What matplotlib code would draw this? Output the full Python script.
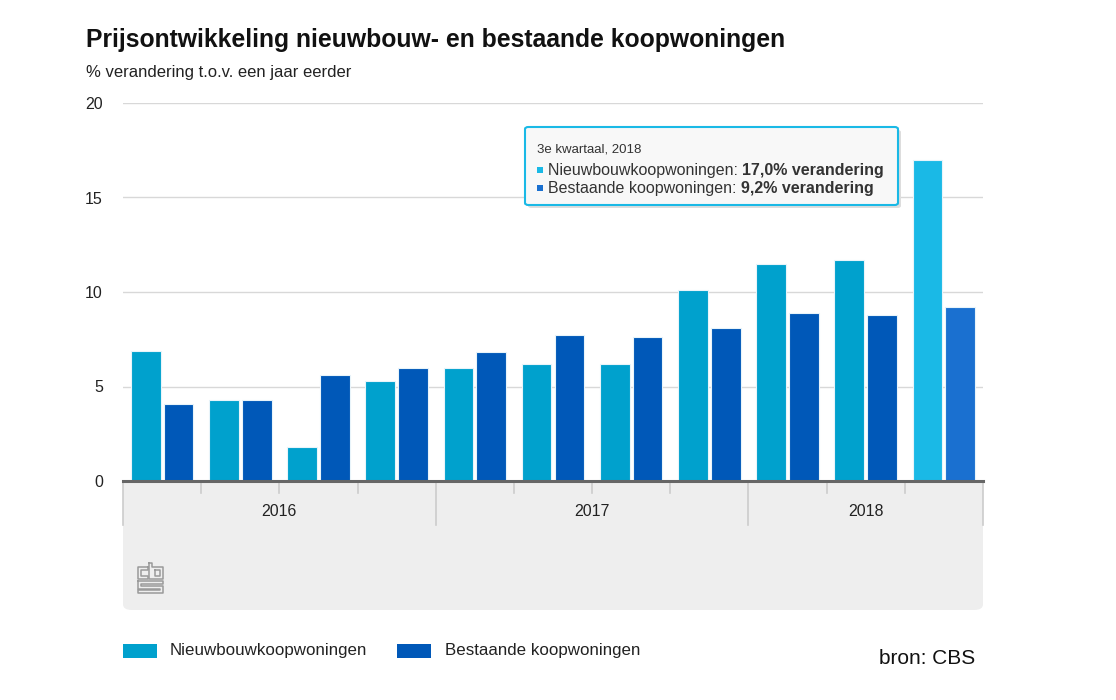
import matplotlib
matplotlib.use('Agg')
import matplotlib.pyplot as plt
from matplotlib.patches import FancyBboxPatch, Rectangle
from matplotlib.lines import Line2D
import matplotlib.transforms as mtransforms
import numpy as np

# data
kwartalen = ['2016 Q1', '2016 Q2', '2016 Q3', '2016 Q4',
             '2017 Q1', '2017 Q2', '2017 Q3', '2017 Q4',
             '2018 Q1', '2018 Q2', '2018 Q3']
jaren = ['2016', '2017', '2018']
kwartalen_per_jaar = [4, 4, 3]
nieuwbouw = [6.9, 4.3, 1.8, 5.3, 6.0, 6.2, 6.2, 10.1, 11.5, 11.7, 17.0]
bestaand = [4.1, 4.3, 5.6, 6.0, 6.8, 7.7, 7.6, 8.1, 8.9, 8.8, 9.2]
yticks = [0, 5, 10, 15, 20]

# colours
c_nieuw = '#00a1cd'
c_best = '#0058b8'
c_nieuw_hl = '#1ab9e6'
c_best_hl = '#1a70d0'

plt.rcParams['font.family'] = ['Liberation Sans', 'DejaVu Sans']

W, H = 1116, 700
fig = plt.figure(figsize=(W/100, H/100), dpi=100)
fx = lambda px: px / W
fy = lambda py: 1 - py / H

# grey band below the axis (behind axes)
band = FancyBboxPatch((fx(123), fy(610)), fx(983) - fx(123), fy(470) - fy(610),
                      boxstyle='round,pad=0,rounding_size=0.008',
                      transform=fig.transFigure, facecolor='#eeeeee',
                      edgecolor='none', zorder=0)
fig.patches.append(band)

ax = fig.add_axes([fx(123), fy(481), fx(983) - fx(123), fy(103) - fy(481)])
ax.set_facecolor('white')
ax.set_zorder(1)

x = np.arange(len(kwartalen))
bw = 0.38
g = 0.02
cn = [c_nieuw] * (len(x) - 1) + [c_nieuw_hl]
cb = [c_best] * (len(x) - 1) + [c_best_hl]
ax.bar(x - bw/2 - g, nieuwbouw, bw, color=cn, edgecolor='#e8f4fa', linewidth=0.8, zorder=3)
ax.bar(x + bw/2 + g, bestaand, bw, color=cb, edgecolor='#e8f4fa', linewidth=0.8, zorder=3)

ax.set_xlim(-0.5, len(x) - 0.5)
ax.set_ylim(0, 20)
ax.set_yticks(yticks)
ax.set_yticklabels([str(t) for t in yticks], fontsize=11.5, color='#222222')
ax.tick_params(axis='y', length=0, pad=14.5)
ax.set_xticks([])
for t in yticks[1:]:
    ax.axhline(t, color='#d8d8d8', linewidth=1, zorder=1)
for s in ['top', 'right', 'left']:
    ax.spines[s].set_visible(False)
ax.spines['bottom'].set_color('#666666')
ax.spines['bottom'].set_linewidth(2.2)
ax.spines['bottom'].set_zorder(5)

# category ticks in the band
trans = mtransforms.blended_transform_factory(ax.transData, ax.transAxes)
axh = fy(103) - fy(481)
kort = (12 / H) / axh
lang = (44 / H) / axh
grenzen = np.cumsum([0] + kwartalen_per_jaar) - 0.5
for b in np.arange(-0.5, len(x), 1.0):
    ln = lang if np.any(np.isclose(b, grenzen)) else kort
    ax.add_line(Line2D([b, b], [0, -ln], transform=trans, color='#cccccc',
                       linewidth=1.2, clip_on=False, zorder=2))
for i, j in enumerate(jaren):
    mid = (grenzen[i] + grenzen[i + 1]) / 2
    ax.text(mid, -(30 / H) / axh, j, transform=trans, ha='center', va='center',
            fontsize=11.5, color='#222222')

# cbs logo (simple line drawing)
lc = '#9a9a9a'
logo = [
    [(148, 567), (138, 567), (138, 579), (148, 579), (148, 576), (141, 576), (141, 570), (148, 570), (148, 567)],
    [(149, 563), (152, 563), (152, 567), (163, 567), (163, 579), (149, 579), (149, 563)],
    [(155, 570), (160, 570), (160, 576), (155, 576), (155, 570)],
    [(138, 581), (163, 581), (163, 584), (141, 584), (141, 586), (163, 586), (163, 593), (138, 593),
     (138, 590), (160, 590), (160, 589), (138, 589), (138, 581)],
]
for poly in logo:
    xs = [fx(p[0]) for p in poly]
    ys = [fy(p[1]) for p in poly]
    fig.add_artist(Line2D(xs, ys, transform=fig.transFigure, color=lc, linewidth=1.1))

# title and subtitle
fig.text(fx(86), fy(40), 'Prijsontwikkeling nieuwbouw- en bestaande koopwoningen',
         fontsize=17.8, fontweight='bold', color='#111111', va='center', ha='left')
fig.text(fx(86), fy(73), '% verandering t.o.v. een jaar eerder',
         fontsize=12, color='#222222', va='center', ha='left')

# legend
fig.add_artist(Rectangle((fx(123), fy(658)), fx(157) - fx(123), fy(644) - fy(658),
                         transform=fig.transFigure, facecolor=c_nieuw, edgecolor='none'))
fig.text(fx(170), fy(651), 'Nieuwbouwkoopwoningen', fontsize=12.2, color='#222222', va='center')
fig.add_artist(Rectangle((fx(397), fy(658)), fx(431) - fx(397), fy(644) - fy(658),
                         transform=fig.transFigure, facecolor=c_best, edgecolor='none'))
fig.text(fx(445), fy(651), 'Bestaande koopwoningen', fontsize=12.2, color='#222222', va='center')
fig.text(fx(975), fy(658), 'bron: CBS', fontsize=15, color='#111111', va='center', ha='right')

# tooltip
shadow = FancyBboxPatch((fx(528), fy(208)), fx(898) - fx(525), fy(127) - fy(205),
                        boxstyle='round,pad=0,rounding_size=0.003', transform=fig.transFigure,
                        facecolor='#dddddd', edgecolor='none', zorder=9)
fig.patches.append(shadow)
tip = FancyBboxPatch((fx(525), fy(205)), fx(898) - fx(525), fy(127) - fy(205),
                     boxstyle='round,pad=0,rounding_size=0.003', transform=fig.transFigure,
                     facecolor='#f8f8f8', edgecolor=c_nieuw_hl, linewidth=1.5, zorder=10)
fig.patches.append(tip)
fig.text(fx(537), fy(150), '3e kwartaal, 2018', fontsize=9.5, color='#333333',
         va='center', zorder=11)

fig.canvas.draw()
renderer = fig.canvas.get_renderer()
regels = [(c_nieuw_hl, 'Nieuwbouwkoopwoningen: ', f'{nieuwbouw[-1]:.1f}% verandering'.replace('.', ',', 1), 170),
          (c_best_hl, 'Bestaande koopwoningen: ', f'{bestaand[-1]:.1f}% verandering'.replace('.', ',', 1), 188)]
for kleur, naam, waarde, py in regels:
    fig.add_artist(Rectangle((fx(537), fy(py + 3)), fx(543) - fx(537), fy(py - 3) - fy(py + 3),
                             transform=fig.transFigure, facecolor=kleur, edgecolor='none', zorder=11))
    t1 = fig.text(fx(548), fy(py), naam, fontsize=11.5, color='#333333', va='center', zorder=11)
    bb = t1.get_window_extent(renderer)
    fig.text(bb.x1 / W, fy(py), waarde, fontsize=11.5, fontweight='bold', color='#333333',
             va='center', zorder=11)

fig.savefig('out.png', dpi=100)
